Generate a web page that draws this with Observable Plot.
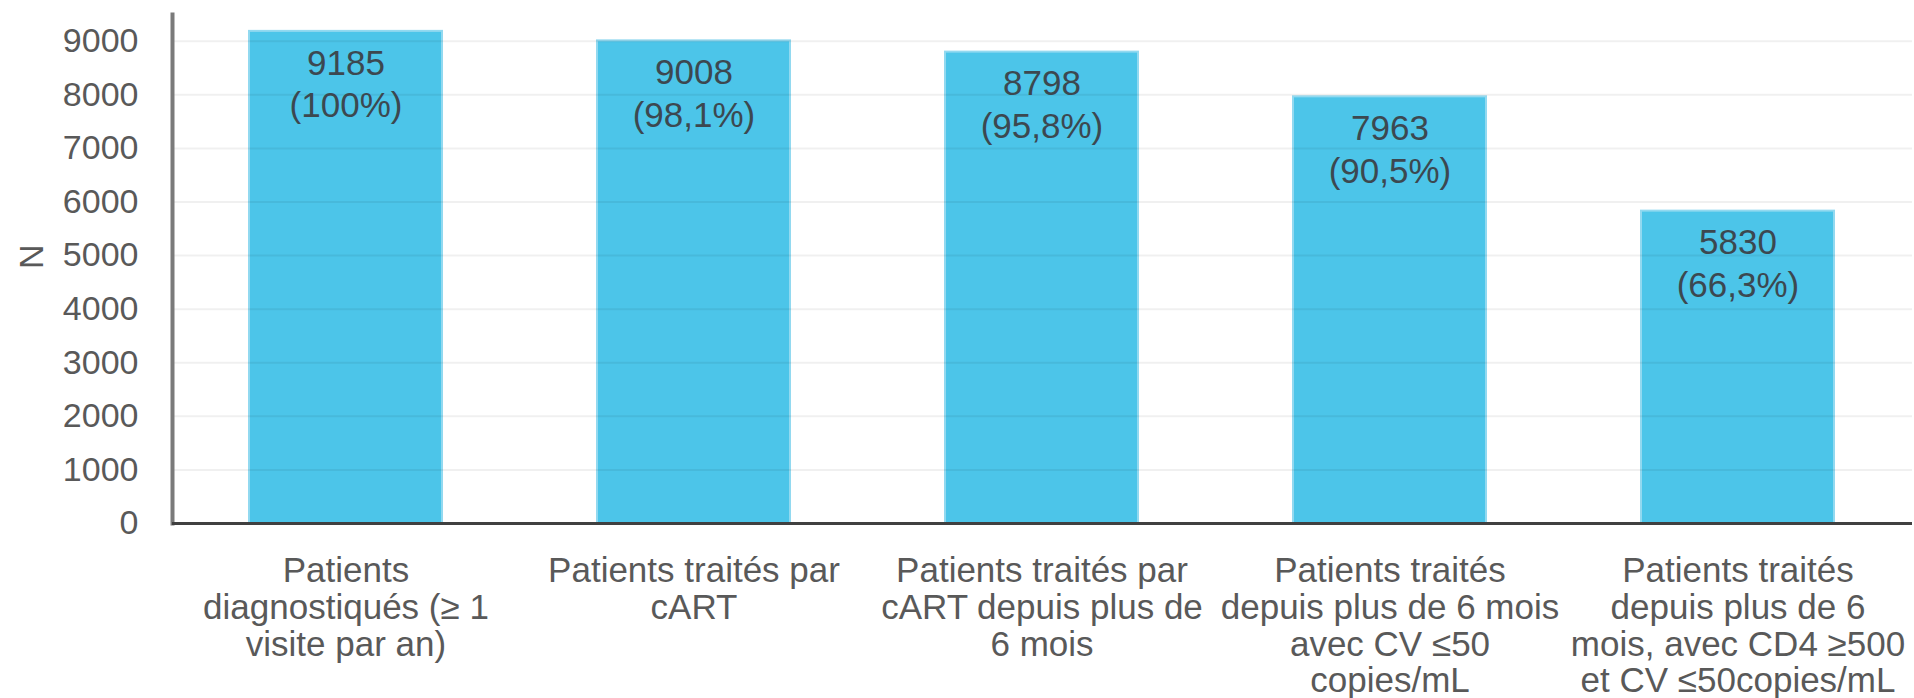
<!DOCTYPE html>
<html>
<head>
<meta charset="utf-8">
<script src="https://cdn.jsdelivr.net/npm/d3@7"></script>
<script src="https://cdn.jsdelivr.net/npm/@observablehq/plot@0.6"></script>
<style>
  html, body { margin: 0; padding: 0; background: #ffffff; }
  #chart svg { display: block; }
</style>
</head>
<body>
<div id="chart"></div>
<script>
const categories = [
  "Patients\ndiagnostiqués (≥ 1\nvisite par an)",
  "Patients traités par\ncART",
  "Patients traités par\ncART depuis plus de\n6 mois",
  "Patients traités\ndepuis plus de 6 mois\navec CV ≤50\ncopies/mL",
  "Patients traités\ndepuis plus de 6\nmois, avec CD4 ≥500\net CV ≤50copies/mL"
];
const values = [9185, 9008, 8798, 7963, 5830];
const percents = ["100%", "98,1%", "95,8%", "90,5%", "66,3%"];
const yTicks = [0, 1000, 2000, 3000, 4000, 5000, 6000, 7000, 8000, 9000];
const yLabel = "N";

const data = categories.map((c, i) => ({
  category: c,
  value: values[i],
  label: `${values[i]}\n(${percents[i]})`
}));

const font = "'Liberation Sans', Arial, sans-serif";

const chart = Plot.plot({
  width: 1914,
  height: 698,
  marginTop: 14,
  marginBottom: 175,
  marginLeft: 172,
  marginRight: 2,
  style: { fontFamily: font, background: "#ffffff" },
  x: { domain: categories, paddingInner: 0.445, paddingOuter: 0.2225, axis: null },
  y: { domain: [0, 9500], axis: null },
  marks: [
    Plot.barY(data, {
      x: "category", y: "value",
      fill: "#4cc5e9", stroke: "#92d9f0", strokeWidth: 2
    }),
    Plot.gridY(yTicks.filter(d => d > 0), { stroke: "#000000", strokeOpacity: 0.06, strokeWidth: 2 }),
    Plot.text(data, {
      x: "category", y: "value", text: "label",
      lineAnchor: "top", dy: 13, lineHeight: 1.22,
      fontSize: 35, fill: "#3c4850"
    }),
    Plot.axisY({
      ticks: yTicks, tickSize: 0, tickPadding: 34, tickFormat: d => String(d),
      fontSize: 34, color: "#595959", label: null
    }),
    Plot.text([yLabel], {
      frameAnchor: "left", dx: -140, rotate: -90,
      fontSize: 34, fill: "#595959"
    }),
    Plot.text(data, {
      x: "category", text: "category",
      frameAnchor: "bottom", lineAnchor: "top", dy: 33, lineHeight: 1.045,
      fontSize: 35, fill: "#595959"
    }),
    Plot.frame({ anchor: "left", stroke: "#7a7a7a", strokeWidth: 4 }),
    Plot.ruleY([0], { stroke: "#404040", strokeWidth: 3 })
  ]
});

document.getElementById("chart").append(chart);
</script>
</body>
</html>
